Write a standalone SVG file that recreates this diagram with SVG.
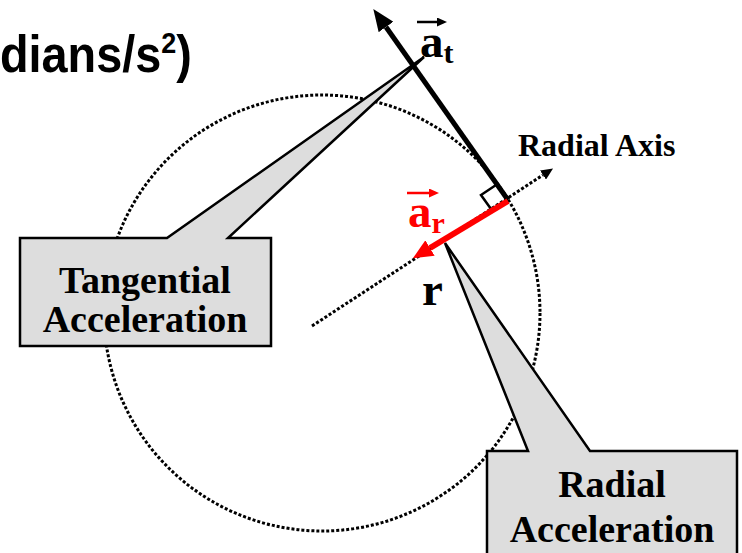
<svg xmlns="http://www.w3.org/2000/svg" width="742" height="553" viewBox="0 0 742 553">
<style>
.bg{fill:#ffffff}
.dot{fill:none;stroke:#000;stroke-width:3;stroke-dasharray:3 2}
.callout{fill:#dddddd;stroke:#000;stroke-width:2.5;stroke-linejoin:miter}
.lbl{font-family:"Liberation Serif","Times New Roman",serif;font-weight:bold;fill:#000}
.title{font-family:"Liberation Sans",Arial,sans-serif;font-weight:bold;fill:#000}
.red{fill:#ff0000}
</style>
<defs>
<marker id="headBig" markerUnits="userSpaceOnUse" markerWidth="22" markerHeight="18" refX="0" refY="9" orient="auto" viewBox="0 0 22 18"><path d="M0,0 L22,9 L0,18 z" fill="#000"/></marker>
<marker id="headRed" markerUnits="userSpaceOnUse" markerWidth="20" markerHeight="18" refX="0" refY="9" orient="auto" viewBox="0 0 20 18"><path d="M0,0 L20,9 L0,18 z" fill="#ff0000"/></marker>
<marker id="headAxis" markerUnits="userSpaceOnUse" markerWidth="12" markerHeight="11" refX="0" refY="5.5" orient="auto" viewBox="0 0 12 11"><path d="M0,0 L12,5.5 L0,11 z" fill="#000"/></marker>
<marker id="headSmall" markerUnits="userSpaceOnUse" markerWidth="10" markerHeight="9" refX="0" refY="4.5" orient="auto" viewBox="0 0 10 9"><path d="M0,0 L10,4.5 L0,9 z" fill="#000"/></marker>
<marker id="headSmallRed" markerUnits="userSpaceOnUse" markerWidth="10" markerHeight="9" refX="0" refY="4.5" orient="auto" viewBox="0 0 10 9"><path d="M0,0 L10,4.5 L0,9 z" fill="#ff0000"/></marker>
</defs>
<rect class="bg" x="0" y="0" width="742" height="553"/>

<g id="title">
<text class="title" transform="translate(0,72) scale(0.9,1)" x="0" y="0" font-size="52">dians/s<tspan font-size="30" dy="-19">2</tspan><tspan dy="19">)</tspan></text>
</g>

<g id="circle">
<circle class="dot" cx="322" cy="313" r="218"/>
</g>

<g id="connectors">
<line class="dot" x1="312" y1="326" x2="543" y2="175" marker-end="url(#headAxis)"/>
<line x1="508" y1="200" x2="386" y2="27" stroke="#000" stroke-width="5" marker-end="url(#headBig)"/>
<polyline points="496,185 481,195 491,209" fill="none" stroke="#000" stroke-width="2.5"/>
<line x1="508" y1="201" x2="430" y2="248" stroke="#ff0000" stroke-width="6" marker-end="url(#headRed)"/>
</g>

<g id="tangential-callout">
<polygon class="callout" points="20,238 167,238 424,57 228,238 271,238 271,346 20,346"/>
<text class="lbl" x="145" y="293" font-size="38" text-anchor="middle">Tangential</text>
<text class="lbl" x="145" y="332" font-size="38" text-anchor="middle">Acceleration</text>
</g>

<g id="radial-callout">
<polygon class="callout" points="487,451 528,451 445,243 590,451 737,451 737,560 487,560"/>
<text class="lbl" x="612" y="497" font-size="38" text-anchor="middle">Radial</text>
<text class="lbl" x="612" y="542" font-size="38" text-anchor="middle">Acceleration</text>
</g>

<g id="label-at">
<line x1="417" y1="22" x2="437" y2="22" stroke="#000" stroke-width="2.5" marker-end="url(#headSmall)"/>
<text class="lbl" x="420" y="57" font-size="47">a<tspan font-size="30" dy="6">t</tspan></text>
</g>

<g id="label-ar">
<line x1="407" y1="193" x2="429" y2="193" stroke="#ff0000" stroke-width="2.5" marker-end="url(#headSmallRed)"/>
<text class="lbl red" x="408" y="227" font-size="47">a<tspan font-size="30" dy="6">r</tspan></text>
</g>

<g id="label-r">
<text class="lbl" x="422" y="305" font-size="47">r</text>
</g>

<g id="label-axis">
<text class="lbl" x="518" y="156" font-size="32">Radial Axis</text>
</g>
</svg>
